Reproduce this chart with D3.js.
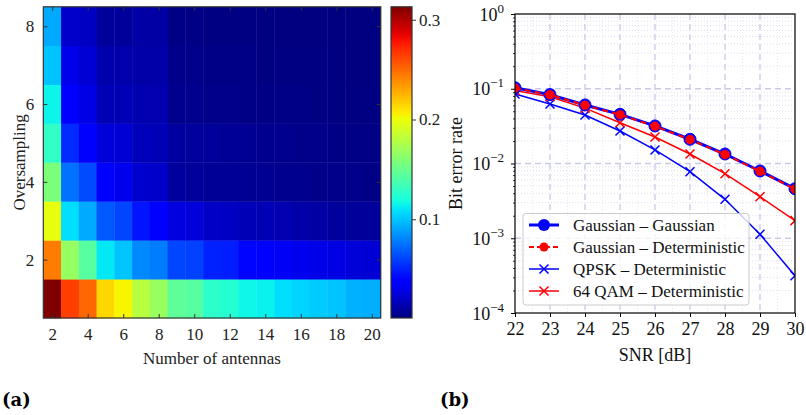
<!DOCTYPE html>
<html>
<head>
<meta charset="utf-8">
<script src="https://cdn.jsdelivr.net/npm/d3@7"></script>
<style>
  body { margin: 0; background: #fff; }
</style>
</head>
<body>
<svg id="fig" width="806" height="415"></svg>
<script>
// ---------- data: panel (a) ----------
const antennas = d3.range(2, 21);            // 2 .. 20
const oversampling = d3.range(1, 9);         // 1 .. 8
// error per (oversampling row, antenna column)
const errRow1 = [0.313, 0.264, 0.251, 0.214, 0.204, 0.180, 0.168, 0.146, 0.143, 0.127, 0.124, 0.116, 0.114, 0.108, 0.105, 0.102, 0.100, 0.094, 0.093];
const errRow2 = [0.244, 0.167, 0.143, 0.111, 0.100, 0.082, 0.078, 0.061, 0.060, 0.050, 0.049, 0.041, 0.039, 0.033, 0.031, 0.029, 0.028, 0.025, 0.024];
const errRow3 = [0.198, 0.108, 0.092, 0.067, 0.061, 0.046, 0.035, 0.027, 0.026, 0.020, 0.019, 0.016, 0.015, 0.014, 0.012, 0.011, 0.009, 0.008, 0.008];
const errRow4 = [0.157, 0.075, 0.063, 0.035, 0.031, 0.022, 0.021, 0.009, 0.008, 0.007, 0.007, 0.006, 0.006, 0.005, 0.005, 0.004, 0.004, 0.004, 0.003];
const errRow5 = [0.129, 0.053, 0.038, 0.025, 0.024, 0.017, 0.016, 0.010, 0.009, 0.008, 0.007, 0.006, 0.005, 0.005, 0.004, 0.004, 0.003, 0.003, 0.003];
const errRow6 = [0.115, 0.037, 0.028, 0.016, 0.016, 0.014, 0.014, 0.005, 0.005, 0.004, 0.004, 0.003, 0.003, 0.003, 0.003, 0.002, 0.002, 0.002, 0.002];
const errRow7 = [0.100, 0.030, 0.024, 0.013, 0.013, 0.012, 0.012, 0.004, 0.004, 0.003, 0.003, 0.003, 0.002, 0.002, 0.002, 0.002, 0.002, 0.001, 0.001];
const errRow8 = [0.092, 0.021, 0.019, 0.008, 0.008, 0.011, 0.011, 0.003, 0.003, 0.002, 0.002, 0.002, 0.002, 0.001, 0.001, 0.001, 0.001, 0.001, 0.001];
const errRows = [errRow1, errRow2, errRow3, errRow4, errRow5, errRow6, errRow7, errRow8];
const antennaTicks = [2, 4, 6, 8, 10, 12, 14, 16, 18, 20];
const overTicks = [2, 4, 6, 8];
const cbarTicks = [0.1, 0.2, 0.3];

// ---------- data: panel (b) ----------
const snr = [22, 23, 24, 25, 26, 27, 28, 29, 30];
const berGaussGauss = [0.103, 0.0835, 0.0607, 0.0455, 0.0318, 0.0211, 0.0134, 0.00794, 0.0046];
const berGaussDet   = [0.102, 0.0830, 0.0600, 0.0450, 0.0315, 0.0209, 0.0132, 0.00785, 0.00455];
const berQpskDet    = [0.085, 0.0625, 0.0445, 0.0272, 0.0152, 0.00777, 0.00332, 0.00113, 0.000315];
const berQamDet     = [0.095, 0.078, 0.055, 0.0351, 0.0226, 0.0134, 0.0073, 0.0036, 0.00172];
const snrTicks = [22, 23, 24, 25, 26, 27, 28, 29, 30];
const berDecades = [-4, -3, -2, -1, 0];
const legendLabels = ["Gaussian \u2013 Gaussian", "Gaussian \u2013 Deterministic", "QPSK \u2013 Deterministic", "64 QAM \u2013 Deterministic"];

const SERIF = '"Liberation Serif", Tinos, "Times New Roman", "DejaVu Serif", serif';
const svg = d3.select("#fig");

// matplotlib "jet" colormap
function jet(t) {
  t = Math.max(0, Math.min(1, t));
  const seg = (pts) => {
    for (let i = 1; i < pts.length; i++) {
      if (t <= pts[i][0]) {
        const [x0, y0] = pts[i - 1], [x1, y1] = pts[i];
        return y0 + (y1 - y0) * (t - x0) / (x1 - x0);
      }
    }
    return pts[pts.length - 1][1];
  };
  const r = seg([[0, 0], [0.35, 0], [0.66, 1], [0.89, 1], [1, 0.5]]);
  const g = seg([[0, 0], [0.125, 0], [0.375, 1], [0.64, 1], [0.91, 0], [1, 0]]);
  const b = seg([[0, 0.5], [0.11, 1], [0.34, 1], [0.65, 0], [1, 0]]);
  return d3.rgb(r * 255, g * 255, b * 255).toString();
}

// ================= panel (a): heatmap =================
const hm = { left: 43.3, right: 380.7, top: 6.8, bottom: 318 };
const xBand = d3.scaleBand().domain(antennas).range([hm.left, hm.right]).padding(0);
const yBand = d3.scaleBand().domain(oversampling).range([hm.bottom, hm.top]).padding(0);
const allVals = errRows.flat();
const vmin = d3.min(allVals), vmax = d3.max(allVals);
const cnorm = d3.scaleLinear().domain([vmin, vmax]).range([0, 1]);

const cells = [];
errRows.forEach((row, i) => row.forEach((v, j) => cells.push({ o: oversampling[i], a: antennas[j], v })));

const gA = svg.append("g");
gA.selectAll("rect.cell").data(cells).join("rect")
  .attr("class", "cell")
  .attr("x", d => xBand(d.a))
  .attr("y", d => yBand(d.o))
  .attr("width", xBand.bandwidth() + 0.4)
  .attr("height", yBand.bandwidth() + 0.4)
  .attr("fill", d => jet(cnorm(d.v)));

const axisCol = "#333";
function styleAxis(g) {
  g.attr("font-family", SERIF);
  g.select(".domain").remove();
  g.selectAll(".tick line").attr("stroke", axisCol).attr("stroke-width", 1);
  g.selectAll(".tick text").attr("font-size", 17).attr("fill", "#222").attr("font-family", SERIF);
}
const xCenter = d3.scalePoint().domain(antennas).range([hm.left + xBand.bandwidth() / 2, hm.right - xBand.bandwidth() / 2]);
const yCenter = d3.scalePoint().domain(oversampling).range([hm.bottom - yBand.bandwidth() / 2, hm.top + yBand.bandwidth() / 2]);

gA.append("g").attr("transform", `translate(0,${hm.bottom})`)
  .call(d3.axisBottom(xCenter).tickValues(antennaTicks).tickSizeInner(-4).tickSizeOuter(0).tickPadding(10))
  .call(styleAxis);
gA.append("g").attr("transform", `translate(0,${hm.top})`)
  .call(d3.axisTop(xCenter).tickValues(antennaTicks).tickSizeInner(-4).tickSizeOuter(0).tickFormat(""))
  .call(styleAxis);
gA.append("g").attr("transform", `translate(${hm.left},0)`)
  .call(d3.axisLeft(yCenter).tickValues(overTicks).tickSizeInner(-4).tickSizeOuter(0).tickPadding(9))
  .call(styleAxis);
gA.append("g").attr("transform", `translate(${hm.right},0)`)
  .call(d3.axisRight(yCenter).tickValues(overTicks).tickSizeInner(-4).tickSizeOuter(0).tickFormat(""))
  .call(styleAxis);
gA.append("rect").attr("x", hm.left).attr("y", hm.top)
  .attr("width", hm.right - hm.left).attr("height", hm.bottom - hm.top)
  .attr("fill", "none").attr("stroke", axisCol).attr("stroke-width", 1.2);

gA.append("text").attr("x", (hm.left + hm.right) / 2).attr("y", 364)
  .attr("text-anchor", "middle").attr("font-size", 17).attr("fill", "#222").attr("font-family", SERIF)
  .text("Number of antennas");
gA.append("text").attr("transform", `translate(25,${(hm.top + hm.bottom) / 2}) rotate(-90)`)
  .attr("text-anchor", "middle").attr("font-size", 17).attr("fill", "#222").attr("font-family", SERIF)
  .text("Oversampling");

// colorbar
const cb = { left: 391, right: 412, top: 6.8, bottom: 318 };
const cScale = d3.scaleLinear().domain([vmin, vmax]).range([cb.bottom, cb.top]);
const defs = svg.append("defs");
const grad = defs.append("linearGradient").attr("id", "jetgrad")
  .attr("x1", 0).attr("y1", 1).attr("x2", 0).attr("y2", 0);
d3.range(0, 1.0001, 0.02).forEach(t => grad.append("stop").attr("offset", t).attr("stop-color", jet(t)));
gA.append("rect").attr("x", cb.left).attr("y", cb.top)
  .attr("width", cb.right - cb.left).attr("height", cb.bottom - cb.top)
  .attr("fill", "url(#jetgrad)").attr("stroke", axisCol).attr("stroke-width", 1.2);
gA.append("g").attr("transform", `translate(${cb.right},0)`)
  .call(d3.axisRight(cScale).tickValues(cbarTicks).tickSize(4).tickPadding(3).tickFormat(d3.format(".1f")))
  .call(styleAxis);

// ================= panel (b): BER curves =================
const pb = { left: 515, right: 795, top: 14, bottom: 313 };
const x = d3.scaleLinear().domain([22, 30]).range([pb.left, pb.right]);
const y = d3.scaleLog().domain([1e-4, 1]).range([pb.bottom, pb.top]);
const gB = svg.append("g").attr("font-family", SERIF);
const gridCol = "#c9c9e8";

defs.append("clipPath").attr("id", "plotclip").append("rect")
  .attr("x", pb.left).attr("y", pb.top).attr("width", pb.right - pb.left).attr("height", pb.bottom - pb.top);

// minor (dotted) and major (dashed) grid
const minorVals = [];
for (let e = -4; e < 0; e++) for (let m = 2; m <= 9; m++) minorVals.push(m * Math.pow(10, e));
gB.append("g").selectAll("line").data(minorVals).join("line")
  .attr("x1", pb.left).attr("x2", pb.right)
  .attr("y1", d => y(d)).attr("y2", d => y(d))
  .attr("stroke", "#d6d6ee").attr("stroke-width", 0.8).attr("stroke-dasharray", "1,2");
const minorX = d3.range(22.5, 30, 1);
gB.append("g").selectAll("line").data(minorX).join("line")
  .attr("x1", d => x(d)).attr("x2", d => x(d))
  .attr("y1", pb.top).attr("y2", pb.bottom)
  .attr("stroke", "#e2e2f2").attr("stroke-width", 0.8).attr("stroke-dasharray", "1,2");
gB.append("g").selectAll("line").data(berDecades.slice(1, -1)).join("line")
  .attr("x1", pb.left).attr("x2", pb.right)
  .attr("y1", d => y(Math.pow(10, d))).attr("y2", d => y(Math.pow(10, d)))
  .attr("stroke", gridCol).attr("stroke-width", 1.3).attr("stroke-dasharray", "6,4");
gB.append("g").selectAll("line").data(snrTicks.slice(1, -1)).join("line")
  .attr("x1", d => x(d)).attr("x2", d => x(d))
  .attr("y1", pb.top).attr("y2", pb.bottom)
  .attr("stroke", gridCol).attr("stroke-width", 1.3).attr("stroke-dasharray", "6,4");

// series
const plot = gB.append("g").attr("clip-path", "url(#plotclip)");
const line = d3.line().x(d => x(d[0])).y(d => y(d[1]));
const zip = (vals) => snr.map((s, i) => [s, vals[i]]);
const crossPath = (s) => `M${-s},${-s}L${s},${s}M${-s},${s}L${s},${-s}`;

function drawSeries(vals, color, width, dash, marker) {
  const pts = zip(vals);
  plot.append("path").datum(pts).attr("d", line)
    .attr("fill", "none").attr("stroke", color).attr("stroke-width", width)
    .attr("stroke-dasharray", dash || null);
  const m = plot.append("g");
  if (marker.type === "circle") {
    m.selectAll("circle").data(pts).join("circle")
      .attr("cx", d => x(d[0])).attr("cy", d => y(d[1])).attr("r", marker.r)
      .attr("fill", marker.fill).attr("stroke", marker.stroke).attr("stroke-width", marker.sw);
  } else {
    m.selectAll("path").data(pts).join("path")
      .attr("transform", d => `translate(${x(d[0])},${y(d[1])})`)
      .attr("d", crossPath(marker.r))
      .attr("fill", "none").attr("stroke", color).attr("stroke-width", 1.5);
  }
}
drawSeries(berQpskDet, "#0000ff", 1.5, null, { type: "cross", r: 4.5 });
drawSeries(berQamDet, "#ff0000", 1.5, null, { type: "cross", r: 4.5 });
drawSeries(berGaussGauss, "#0000ff", 3, null, { type: "circle", r: 6, fill: "#0000ff", stroke: "#0000ff", sw: 1 });
drawSeries(berGaussDet, "#ff0000", 2, "6,4", { type: "circle", r: 4.5, fill: "#ff0000", stroke: "#ff0000", sw: 0.5 });

// axes
const xAxisB = gB.append("g").attr("transform", `translate(0,${pb.bottom})`)
  .call(d3.axisBottom(x).tickValues(snrTicks).tickSize(4).tickPadding(5).tickFormat(d3.format("d")));
xAxisB.attr("font-family", SERIF).select(".domain").remove();
xAxisB.selectAll(".tick line").attr("stroke", "#000");
xAxisB.selectAll(".tick text").attr("font-size", 18).attr("fill", "#111").attr("font-family", SERIF);

const yAxisB = gB.append("g").attr("transform", `translate(${pb.left},0)`)
  .call(d3.axisLeft(y).tickValues(minorVals).tickSize(2).tickFormat(""));
yAxisB.select(".domain").remove();
yAxisB.selectAll(".tick line").attr("stroke", "#000").attr("stroke-width", 0.8);
const yMajor = gB.append("g").attr("transform", `translate(${pb.left},0)`)
  .call(d3.axisLeft(y).tickValues(berDecades.map(e => Math.pow(10, e))).tickSize(4).tickFormat(""));
yMajor.select(".domain").remove();
yMajor.selectAll(".tick line").attr("stroke", "#000");
yMajor.selectAll(".tick").each(function (d) {
  const e = Math.round(Math.log10(d));
  const t = d3.select(this).append("text").attr("x", -11).attr("y", 6)
    .attr("text-anchor", "end").attr("font-size", 18).attr("fill", "#111").attr("font-family", SERIF);
  t.append("tspan").text("10");
  t.append("tspan").attr("dy", -8).attr("font-size", 13).text(e === 0 ? "0" : "\u2212" + Math.abs(e));
});

gB.append("rect").attr("x", pb.left).attr("y", pb.top)
  .attr("width", pb.right - pb.left).attr("height", pb.bottom - pb.top)
  .attr("fill", "none").attr("stroke", "#000").attr("stroke-width", 1.2);

gB.append("text").attr("x", (pb.left + pb.right) / 2).attr("y", 361)
  .attr("text-anchor", "middle").attr("font-size", 18).attr("fill", "#111").attr("font-family", SERIF)
  .text("SNR [dB]");
gB.append("text").attr("transform", `translate(462,${(pb.top + pb.bottom) / 2}) rotate(-90)`)
  .attr("text-anchor", "middle").attr("font-size", 18).attr("fill", "#111").attr("font-family", SERIF)
  .text("Bit error rate");

// legend
const lg = gB.append("g");
lg.append("rect").attr("x", 523).attr("y", 213.5).attr("width", 226).attr("height", 91.5)
  .attr("rx", 3).attr("fill", "#fff").attr("fill-opacity", 0.8)
  .attr("stroke", "#cccccc").attr("stroke-width", 1);
const legendStyles = [
  { color: "#0000ff", w: 3, dash: null, marker: "circle", r: 6 },
  { color: "#ff0000", w: 2, dash: "5,3", marker: "circle", r: 4.5 },
  { color: "#0000ff", w: 1.5, dash: null, marker: "cross", r: 4.5 },
  { color: "#ff0000", w: 1.5, dash: null, marker: "cross", r: 4.5 }
];
const legendY = d3.scalePoint().domain(d3.range(4)).range([225, 291]);
legendLabels.forEach((label, i) => {
  const s = legendStyles[i], yy = legendY(i);
  lg.append("line").attr("x1", 529).attr("x2", 559).attr("y1", yy).attr("y2", yy)
    .attr("stroke", s.color).attr("stroke-width", s.w).attr("stroke-dasharray", s.dash);
  if (s.marker === "circle") {
    lg.append("circle").attr("cx", 544).attr("cy", yy).attr("r", s.r).attr("fill", s.color);
  } else {
    lg.append("path").attr("transform", `translate(544,${yy})`).attr("d", crossPath(s.r))
      .attr("stroke", s.color).attr("stroke-width", 1.5).attr("fill", "none");
  }
  lg.append("text").attr("x", 573).attr("y", yy + 5.5).attr("font-size", 17).attr("fill", "#111")
    .attr("font-family", SERIF).text(label);
});

// panel labels
svg.append("text").attr("x", 2).attr("y", 406).attr("font-size", 18).attr("font-weight", "bold")
  .attr("font-family", '"DejaVu Serif", serif').attr("fill", "#000").text("(a)");
svg.append("text").attr("x", 440).attr("y", 406).attr("font-size", 18).attr("font-weight", "bold")
  .attr("font-family", '"DejaVu Serif", serif').attr("fill", "#000").text("(b)");
</script>
</body>
</html>
